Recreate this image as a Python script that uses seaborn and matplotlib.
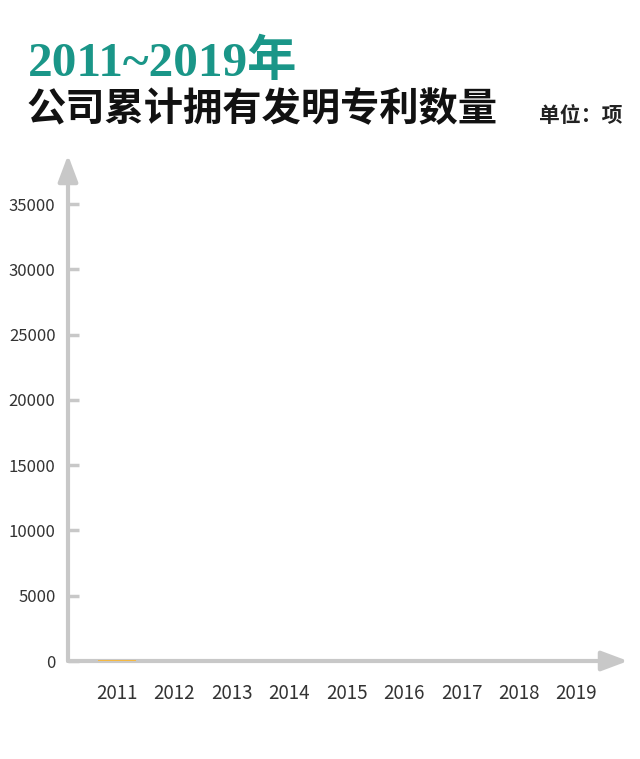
import numpy as np
import pandas as pd
import seaborn as sns
import matplotlib.pyplot as plt

# data (animation frame: only the 2011 bar has started to grow)
years = ['2011', '2012', '2013', '2014', '2015', '2016', '2017', '2018', '2019']
patents = [100, 0, 0, 0, 0, 0, 0, 0, 0]
y_ticks = [0, 5000, 10000, 15000, 20000, 25000, 30000, 35000]

sns.set_theme(style='white')
plt.rcParams['font.family'] = ['Noto Sans CJK SC', 'DejaVu Sans']

W, H = 640, 759
fig = plt.figure(figsize=(W / 100, H / 100), dpi=100)
fig.patch.set_facecolor('white')

# axes box in pixel terms: x from 68 to 627, y from 661 (zero) up to 155 (arrow tip)
ax = fig.add_axes([68 / W, (H - 661) / H, (628 - 68) / W, (661 - 155) / H])
ax.set_facecolor('white')

df = pd.DataFrame({'year': years, 'patents': patents})
sns.barplot(data=df, x='year', y='patents', color='#f5b942', saturation=1,
            width=0.65, linewidth=0, edgecolor='none', ax=ax, zorder=5)

ax.set_xlim(-0.854, 8.9)
ax.set_ylim(0, (661 - 155) / (457 / 35000))
ax.set_yticks(y_ticks)
ax.set_yticklabels([str(t) for t in y_ticks])
ax.set_xlabel('')
ax.set_ylabel('')
for s in ax.spines.values():
    s.set_visible(False)

axis_col = '#c8c8c8'
arrow = dict(arrowstyle='-|>,head_length=0.8,head_width=0.3', color=axis_col,
             lw=3, mutation_scale=20, shrinkA=0, shrinkB=0)
ax.annotate('', xy=(1, 0), xytext=(0, 0), xycoords='axes fraction',
            textcoords='axes fraction', arrowprops=arrow, zorder=4)
ax.annotate('', xy=(0, 1), xytext=(0, 0), xycoords='axes fraction',
            textcoords='axes fraction', arrowprops=arrow, zorder=4)

ax.tick_params(axis='y', left=True, direction='in', length=8, width=2.5,
               color=axis_col, pad=9, labelsize=12, labelcolor='#333333')
ax.tick_params(axis='x', bottom=False, pad=10, labelsize=13.5, labelcolor='#333333')

fig.text(28 / W, 1 - 76 / H, '2011~2019年', fontsize=35.5, weight='bold', color='#1a9688',
         family=['Liberation Serif', 'Noto Sans CJK SC'], va='baseline')
fig.text(26 / W, 1 - 110 / H, '公司累计拥有发明专利数量', fontsize=28.3, weight='heavy',
         color='#111111', va='center')
fig.text(622 / W, 1 - 116 / H, '单位：项', fontsize=15, weight='bold',
         color='#222222', ha='right', va='center')

fig.savefig('out.png', dpi=100)
